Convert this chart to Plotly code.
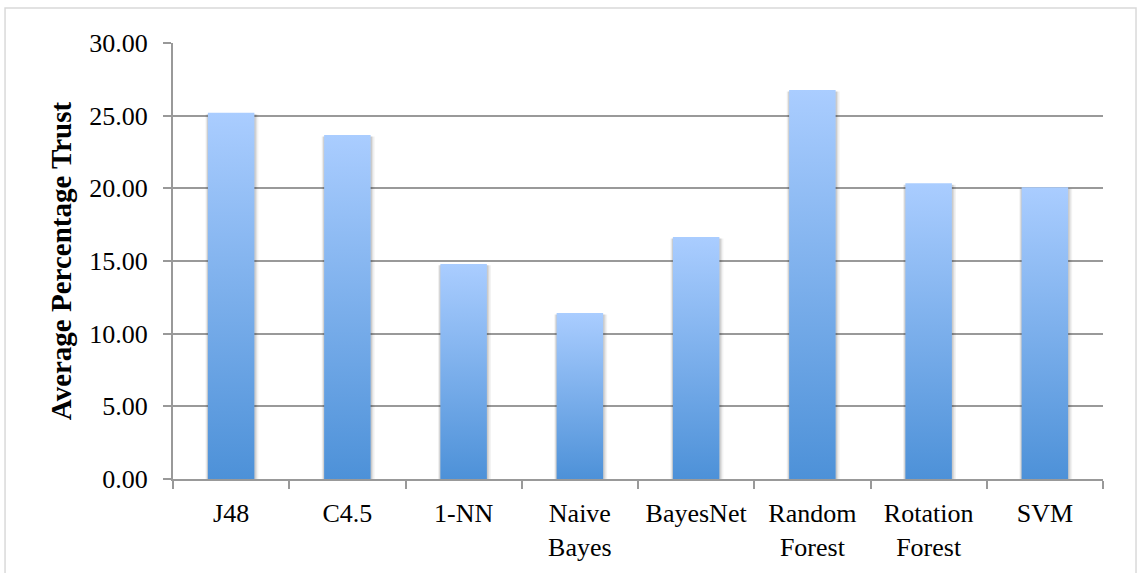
import plotly.graph_objects as go

# Average percentage trust per classifier
categories = ["J48", "C4.5", "1-NN", "Naive<br>Bayes", "BayesNet",
              "Random<br>Forest", "Rotation<br>Forest", "SVM"]
trust = [25.2, 23.67, 14.8, 11.42, 16.65, 26.77, 20.35, 20.07]

y_ticks = [0, 5, 10, 15, 20, 25, 30]

BAR_HALF = 0.2
TOP_COLOR = "#AACDFF"
BOTTOM_COLOR = "#4D91D8"
GRID = "#999999"
FONT = "Liberation Serif"

fig = go.Figure()

# soft drop shadow behind each bar
for i, v in enumerate(trust):
    for dx, alpha in [(0.035, 0.05), (0.022, 0.07), (0.012, 0.09)]:
        x0, x1 = i - BAR_HALF - dx * 0.6, i + BAR_HALF + dx
        fig.add_trace(go.Scatter(
            x=[x0, x1, x1, x0, x0], y=[0, 0, v - 0.1, v - 0.1, 0],
            mode="lines", fill="toself", line=dict(width=0),
            fillcolor=f"rgba(0,0,0,{alpha})", hoverinfo="skip", showlegend=False))

# gradient-filled bars
for i, v in enumerate(trust):
    x0, x1 = i - BAR_HALF, i + BAR_HALF
    fig.add_trace(go.Scatter(
        x=[x0, x1, x1, x0, x0], y=[0, 0, v, v, 0],
        mode="lines", fill="toself", line=dict(width=0),
        fillgradient=dict(type="vertical",
                          colorscale=[[0, BOTTOM_COLOR], [1, TOP_COLOR]]),
        hovertemplate=f"{categories[i].replace('<br>', ' ')}: {v:.2f}<extra></extra>",
        showlegend=False))

fig.update_layout(
    width=1137, height=573,
    margin=dict(l=173, r=34, t=43, b=94),
    paper_bgcolor="white", plot_bgcolor="white",
    font=dict(family=FONT, color="black", size=26),
    shapes=[dict(type="rect", xref="paper", yref="paper",
                 x0=-0.1806, x1=1.0355, y0=-0.4, y1=1.0803,
                 line=dict(color="#D9D9D9", width=1.5), layer="below")],
)

fig.update_xaxes(
    range=[-0.5, len(categories) - 0.5],
    tickvals=list(range(len(categories))), ticktext=categories,
    ticks="", showgrid=False, zeroline=False,
    showline=True, linecolor=GRID, linewidth=2,
    tickfont=dict(size=26, family=FONT),
    ticklabelstandoff=10,
    minor=dict(tickvals=[i - 0.5 for i in range(len(categories) + 1)],
               ticks="outside", ticklen=8, tickwidth=2, tickcolor=GRID,
               showgrid=False),
    fixedrange=True,
)
fig.update_yaxes(
    range=[0, 30], tickvals=y_ticks, tickformat=".2f",
    ticks="outside", ticklen=8, tickwidth=2, tickcolor=GRID,
    showgrid=True, gridcolor=GRID, gridwidth=2,
    zeroline=False, showline=True, linecolor=GRID, linewidth=2,
    tickfont=dict(size=26, family=FONT),
    ticklabelstandoff=10,
    title=dict(text="<b>Average Percentage Trust</b>",
               font=dict(size=29, family=FONT), standoff=9),
    fixedrange=True,
)

fig.write_html("out.html")
